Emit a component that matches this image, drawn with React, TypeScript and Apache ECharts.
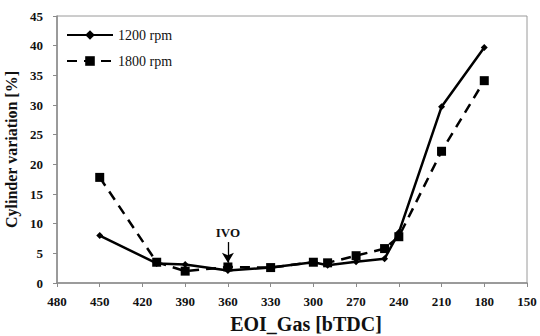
import React, { useEffect, useRef } from "react";
import * as echarts from "echarts";

const eoiGas = [450, 410, 390, 360, 330, 300, 290, 270, 250, 240, 210, 180];
const rpm1200 = [8.0, 3.3, 3.1, 2.1, 2.6, 3.5, 3.0, 3.6, 4.1, 8.5, 29.7, 39.7];
const rpm1800 = [17.8, 3.5, 2.0, 2.7, 2.6, 3.5, 3.4, 4.6, 5.8, 7.8, 22.2, 34.1];
const seriesNames = ["1200 rpm", "1800 rpm"];
const ivoX = 360;

const FONT = "Liberation Serif";

export default function App() {
  const ref = useRef<HTMLDivElement>(null);
  useEffect(() => {
    document.body.style.margin = "0";
    if (!ref.current) return;
    const chart = echarts.init(ref.current, undefined, { renderer: "svg" });
    const pairs = (ys: number[]) => eoiGas.map((x, i) => [x, ys[i]]);
    chart.setOption({
      animation: false,
      backgroundColor: "#fff",
      textStyle: { fontFamily: FONT },
      grid: {
        left: 57,
        right: 13,
        top: 16,
        bottom: 53,
        outerBoundsMode: "none",
        containLabel: false,
        show: true,
        borderColor: "#9a9a9a",
        borderWidth: 1,
      },
      legend: {
        orient: "vertical",
        left: 61,
        top: 23,
        itemWidth: 46,
        itemHeight: 12,
        itemGap: 12,
        textStyle: { fontFamily: FONT, fontSize: 14, color: "#111" },
        data: seriesNames,
      },
      xAxis: {
        type: "value",
        inverse: true,
        min: 150,
        max: 480,
        interval: 30,
        name: "EOI_Gas [bTDC]",
        nameLocation: "middle",
        nameGap: 31,
        nameTextStyle: {
          fontFamily: FONT,
          fontSize: 20,
          fontWeight: "bold",
          color: "#111",
          padding: [0, 0, 0, 28],
        },
        axisLine: { show: true, lineStyle: { color: "#8a8a8a", width: 1.5 } },
        axisTick: { show: true, length: 4, lineStyle: { color: "#8a8a8a" } },
        axisLabel: { fontFamily: FONT, fontSize: 13, fontWeight: "bold", color: "#111", margin: 12 },
        splitLine: { show: false },
      },
      yAxis: {
        type: "value",
        min: 0,
        max: 45,
        interval: 5,
        name: "Cylinder variation [%]",
        nameLocation: "middle",
        nameGap: 36,
        nameTextStyle: { fontFamily: FONT, fontSize: 16, fontWeight: "bold", color: "#111" },
        axisLine: { show: true, lineStyle: { color: "#8a8a8a", width: 1.5 } },
        axisTick: { show: true, length: 4, lineStyle: { color: "#8a8a8a" } },
        axisLabel: { fontFamily: FONT, fontSize: 13, fontWeight: "bold", color: "#111", margin: 14 },
        splitLine: { show: false },
      },
      series: [
        {
          name: seriesNames[0],
          type: "line",
          data: pairs(rpm1200),
          symbol: "diamond",
          symbolSize: 7,
          itemStyle: { color: "#000" },
          lineStyle: { color: "#000", width: 2.5 },
          z: 3,
          markLine: {
            silent: true,
            symbol: ["none", "arrow"],
            symbolSize: [9, 10],
            lineStyle: { color: "#000", width: 1.3, type: "solid" },
            label: {
              show: true,
              position: "start",
              formatter: "IVO",
              fontFamily: FONT,
              fontSize: 13,
              fontWeight: "bold",
              color: "#111",
              distance: 3,
            },
            data: [[{ coord: [ivoX, 6.9] }, { coord: [ivoX, 3.4] }]],
          },
        },
        {
          name: seriesNames[1],
          type: "line",
          data: pairs(rpm1800),
          symbol: "rect",
          symbolSize: 9,
          itemStyle: { color: "#000" },
          lineStyle: { color: "#000", width: 2.5, type: [10, 7] },
          z: 2,
        },
      ],
    });
    return () => chart.dispose();
  }, []);
  return <div ref={ref} style={{ width: 540, height: 336 }} />;
}
